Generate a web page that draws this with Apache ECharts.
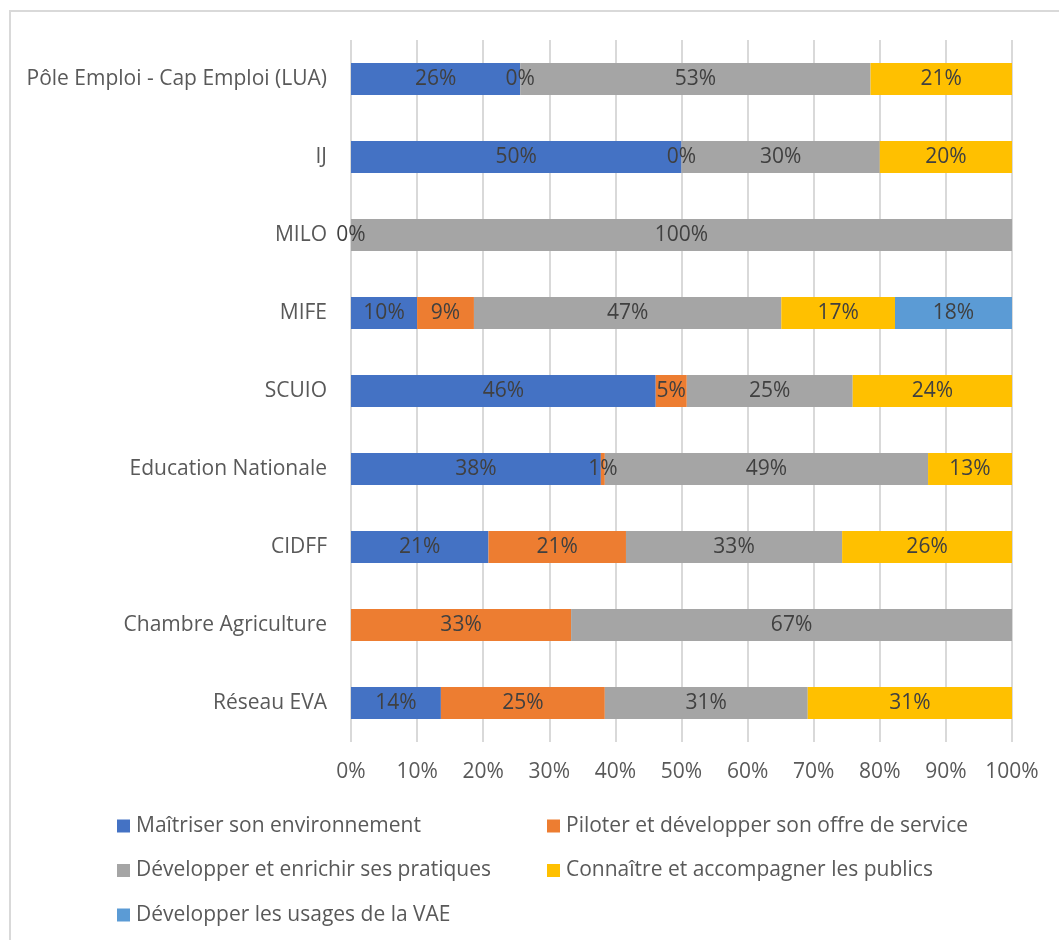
<!DOCTYPE html>
<html>
<head>
<meta charset="utf-8">
<script src="https://cdn.jsdelivr.net/npm/echarts@6/dist/echarts.min.js"></script>
<style>
  html, body { margin: 0; padding: 0; background: #fff; }
  #frame { position: absolute; left: 9px; top: 10px; width: 1100px; height: 1000px; border: 2px solid #d9d9d9; box-sizing: border-box; }
  #chart { position: absolute; left: 0; top: 0; width: 1059px; height: 940px; }
</style>
</head>
<body>
<div id="frame"></div>
<div id="chart"></div>
<script>
const categories = ["Pôle Emploi - Cap Emploi (LUA)", "IJ", "MILO", "MIFE", "SCUIO", "Education Nationale", "CIDFF", "Chambre Agriculture", "Réseau EVA"];
const seriesNames = ["Maîtriser son environnement", "Piloter et développer son offre de service", "Développer et enrichir ses pratiques", "Connaître et accompagner les publics", "Développer les usages de la VAE"];
const maitriser   = [25.6, 50, 0,    10,   46.1, 37.8, 20.8, null, 13.6];
const piloter     = [0,    0,  null, 8.6,  4.7,  0.6,  20.8, 33.3, 24.8];
const developper  = [53.0, 30, 100,  46.5, 25.1, 48.9, 32.7, 66.7, 30.7];
const connaitre   = [21.4, 20, null, 17.2, 24.1, 12.7, 25.7, null, 30.9];
const usagesVAE   = [null, null, null, 17.7, null, null, null, null, null];
const xTicks = [0, 10, 20, 30, 40, 50, 60, 70, 80, 90, 100];

const colors = ["#4472C4", "#ED7D31", "#A5A5A5", "#FFC000", "#5B9BD5"];
const allData = [maitriser, piloter, developper, connaitre, usagesVAE];
const FONT = "Open Sans";
const FS = 21;

const chart = echarts.init(document.getElementById('chart'));
const series = seriesNames.map((name, i) => ({
  name: name,
  type: 'bar',
  stack: 'total',
  data: allData[i],
  barCategoryGap: '59%',
  itemStyle: { color: colors[i] },
  label: {
    show: true,
    position: 'inside',
    color: '#404040',
    fontFamily: FONT,
    fontSize: FS,
    formatter: p => (p.value == null ? '' : Math.round(p.value) + '%')
  },
  emphasis: { disabled: true }
}));

const legendCommon = {
  orient: 'vertical',
  top: 815.5,
  padding: 0,
  itemWidth: 13, itemHeight: 13, itemGap: 23.5,
  icon: 'rect',
  textStyle: { color: '#595959', fontSize: FS, fontFamily: FONT, padding: [0, 0, 0, 1] },
  selectedMode: false
};

chart.setOption({
  animation: false,
  color: colors,
  textStyle: { fontFamily: FONT },
  grid: { left: 351, right: 47, top: 40, bottom: 198, containLabel: false },
  xAxis: {
    type: 'value',
    min: xTicks[0],
    max: xTicks[xTicks.length - 1],
    interval: 10,
    axisLine: { show: false },
    axisTick: { show: false },
    splitLine: { show: true, lineStyle: { color: '#d9d9d9', width: 2 } },
    axisLabel: { color: '#595959', fontSize: FS, fontFamily: FONT, margin: 20, formatter: '{value}%' }
  },
  yAxis: {
    type: 'category',
    inverse: true,
    data: categories,
    axisLine: { show: false },
    axisTick: { show: false },
    axisLabel: { color: '#595959', fontSize: FS, fontFamily: FONT, margin: 24 }
  },
  legend: [
    Object.assign({}, legendCommon, { data: [seriesNames[0], seriesNames[2], seriesNames[4]], left: 117 }),
    Object.assign({}, legendCommon, { data: [seriesNames[1], seriesNames[3]], left: 547 })
  ],
  series: series
});
</script>
</body>
</html>
